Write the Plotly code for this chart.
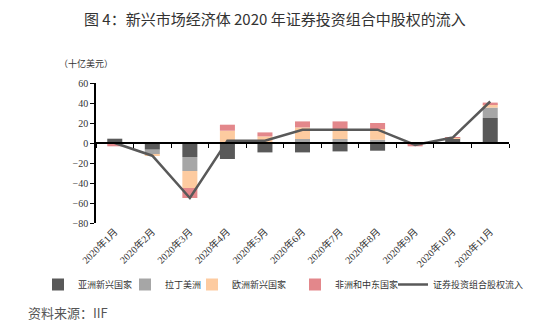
import plotly.graph_objects as go

months = ["2020年1月", "2020年2月", "2020年3月", "2020年4月", "2020年5月", "2020年6月",
          "2020年7月", "2020年8月", "2020年9月", "2020年10月", "2020年11月"]

# 十亿美元
asia = [4.3, -6.7, -14.0, -16.0, -9.4, -9.4, -8.4, -7.7, -0.5, 4.3, 25.0]
latam = [0.0, -4.3, -14.0, 0.0, 0.0, 4.0, 4.0, 3.3, -0.3, 0.5, 10.4]
europe = [-0.8, -1.7, -17.0, 12.3, 6.6, 11.6, 8.3, 10.7, -0.7, 0.6, 3.3]
mena = [-2.5, 0.0, -10.0, 6.0, 4.0, 6.0, 9.3, 6.0, -1.8, 0.6, 1.7]
total = [0.0, -12.7, -55.0, 2.3, 2.3, 13.3, 13.3, 13.3, -2.0, 5.4, 41.5]

y_ticks = [60, 40, 20, 0, -20, -40, -60, -80]

series = [
    ("亚洲新兴国家", asia, "#595959"),
    ("拉丁美洲", latam, "#a6a6a6"),
    ("欧洲新兴国家", europe, "#fdcba0"),
    ("非洲和中东国家", mena, "#e3878b"),
]

W, H = 550, 333
ML, MR, MT, MB = 96, 41, 83, 110
plot_w = W - ML - MR
plot_h = H - MT - MB


def px_to_paper(px_x, px_y):
    return (px_x - ML) / plot_w, (H - MB - px_y) / plot_h


# one small legend box per entry, laid out in a single row under the chart
legend_left_px = [38, 125, 192, 295, 393]
legend_ids = ["legend", "legend2", "legend3", "legend4", "legend5"]

fig = go.Figure()
for (name, vals, color), lg in zip(series, legend_ids):
    fig.add_trace(go.Bar(x=months, y=vals, name=name, marker=dict(color=color, line=dict(width=0)),
                         xaxis="x", yaxis="y", legend=lg))

fig.add_trace(go.Scatter(x=months, y=total, name="证券投资组合股权流入", mode="lines",
                         line=dict(color="#595959", width=2.5), xaxis="x2", yaxis="y",
                         legend=legend_ids[4]))

y_min, y_max = -80, 60
zero_pos = (0 - y_min) / (y_max - y_min)

tick_font = dict(family="Liberation Serif, Noto Sans CJK SC", size=10, color="#333333")

title_x, title_y = px_to_paper(275, 18)
unit_x, unit_y = px_to_paper(57, 63)
src_x, src_y = px_to_paper(26, 312)

legend_style = dict(orientation="h", xref="container", yref="container", xanchor="left",
                    y=1 - 270 / H, yanchor="top", bgcolor="rgba(0,0,0,0)",
                    font=dict(family="Noto Sans CJK SC", size=9, color="#333333"),
                    itemwidth=30)
legends = {lg: dict(legend_style, x=left / W) for lg, left in zip(legend_ids, legend_left_px)}

fig.update_layout(
    width=W, height=H,
    margin=dict(l=ML, r=MR, t=MT, b=MB, autoexpand=False),
    paper_bgcolor="white", plot_bgcolor="white",
    barmode="relative", bargap=0.6,
    showlegend=True,
    xaxis=dict(type="category", showline=False, ticks="", tickangle=-45,
               tickfont=tick_font, showgrid=False, zeroline=False),
    xaxis2=dict(type="category", overlaying="x", matches="x", anchor="free", position=zero_pos,
                side="bottom", showline=True, linecolor="black", linewidth=1.5,
                ticks="outside", tickson="boundaries", ticklen=4, tickcolor="black",
                showticklabels=False, showgrid=False, zeroline=False),
    yaxis=dict(range=[y_min, y_max], tickvals=y_ticks, showline=True, linecolor="black",
               linewidth=1.5, ticks="outside", ticklen=4, tickcolor="black",
               tickfont=tick_font, showgrid=False, zeroline=False),
    font=dict(family="Noto Sans CJK SC", color="#333333"),
    annotations=[
        dict(text="图 4：新兴市场经济体 2020 年证券投资组合中股权的流入", x=title_x, y=title_y,
             xref="paper", yref="paper", showarrow=False, xanchor="center", yanchor="middle",
             font=dict(family="Noto Sans CJK SC", size=15, color="#333333")),
        dict(text="（十亿美元）", x=unit_x, y=unit_y, xref="paper", yref="paper", showarrow=False,
             xanchor="left", yanchor="middle",
             font=dict(family="Noto Sans CJK SC", size=9, color="#333333")),
        dict(text="资料来源：IIF", x=src_x, y=src_y, xref="paper", yref="paper", showarrow=False,
             xanchor="left", yanchor="middle",
             font=dict(family="Noto Sans CJK SC", size=13, color="#555555")),
    ],
    **legends,
)

fig.write_html("out.html")
